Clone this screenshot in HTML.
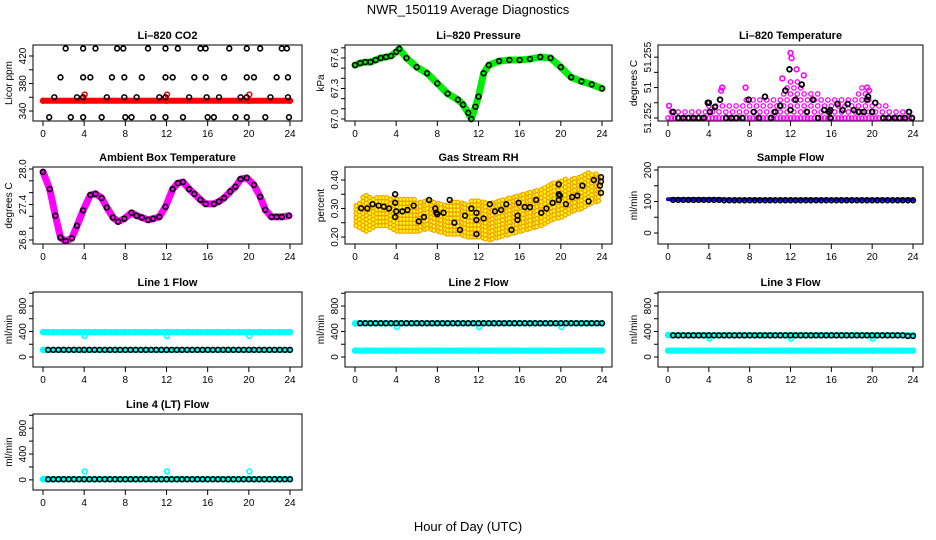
<!DOCTYPE html>
<html><head><meta charset="utf-8">
<style>
html,body{margin:0;padding:0;background:#fff;}
svg{display:block;font-family:"Liberation Sans",Arial,sans-serif;}
.t{font-weight:bold;font-size:11px;}
.tk{font-size:10px;}
</style></head>
<body>
<svg id="chart" width="936" height="540" viewBox="0 0 936 540">
<rect x="0" y="0" width="936" height="540" fill="#fff"/>
<text x="468" y="14" text-anchor="middle" font-size="13">NWR_150119  Average Diagnostics</text>
<text x="468" y="531" text-anchor="middle" font-size="13">Hour of Day (UTC)</text>
</svg>
<script>
// ---- data ----
const xTicks = [0,4,8,12,16,20,24];
const halfHours = [0.5,1,1.5,2,2.5,3,3.5,4,4.5,5,5.5,6,6.5,7,7.5,8,8.5,9,9.5,10,10.5,11,11.5,12,12.5,13,13.5,14,14.5,15,15.5,16,16.5,17,17.5,18,18.5,19,19.5,20,20.5,21,21.5,22,22.5,23,23.5,24];
const hours = [0,1,2,3,4,5,6,7,8,9,10,11,12,13,14,15,16,17,18,19,20,21,22,23,24];

// CO2
const co2Hours = [2.2,3.9,5.1,7.2,7.8,10.2,11.9,13.1,15.3,15.8,18.1,19.8,21.1,23.2,23.7, 1.7,3.9,4.6,6.7,7.9,9.6,11.9,12.6,14.7,15.8,17.6,19.8,20.5,22.7,23.8, 1.1,3.3,3.9,6.2,7.9,9.1,11.3,11.9,14.2,15.9,17.1,19.2,19.8,22.1,23.8, 0.6,2.7,3.9,5.7,8.0,8.6,10.7,11.9,13.6,16.0,16.6,18.7,19.8,21.6,23.9];
const co2Values = [431,431,431,431,431,431,431,431,431,431,431,431,431,431,431, 389,389,389,389,389,389,389,389,389,389,389,389,389,389,389, 360,360,360,360,360,360,360,360,360,360,360,360,360,360,360, 331,331,331,331,331,331,331,331,331,331,331,331,331,331,331];
const co2RedHours = [0,4,4.05,12,12.05,20,20.05,24];
const co2RedValues = [355,355,364,355,364,355,364,355];

// Pressure
const presHours = [0,0.5,1,1.5,2,2.5,3,3.5,4,4.3,5,6,7,8,9,10,10.5,11,11.3,11.7,12,12.5,13,14,15,16,17,18,19,20,21,22,23,24];
const presValues = [67.53,67.55,67.56,67.56,67.58,67.60,67.61,67.62,67.66,67.69,67.60,67.51,67.45,67.35,67.25,67.19,67.14,67.06,67.00,67.12,67.22,67.45,67.53,67.57,67.58,67.58,67.59,67.61,67.60,67.51,67.41,67.37,67.34,67.30];

// Li-820 temperature
const ltHours = [0.5,1,1.5,2,2.5,3,3.5,3.9,4,4.1,4.6,5.1,5.7,6.2,6.7,7.3,7.9,8.4,8.9,9.5,10.1,10.5,11,11.5,11.9,12.0,12.5,13.1,13.6,14.2,14.7,15.3,15.8,15.9,15.9,16.6,17.1,17.6,18.2,18.7,19.2,19.5,19.6,20,20.3,21.1,21.6,22.2,22.7,23.2,23.6,23.9];
const ltValues = [51.2522,51.2520,51.2520,51.2520,51.2520,51.2520,51.2520,51.2525,51.2525,51.2522,51.25236,51.2526,51.2520,51.2520,51.2520,51.2520,51.2526,51.2522,51.2520,51.2527,51.2520,51.2522,51.2524,51.2529,51.2536,51.25226,51.2526,51.2531,51.2522,51.2526,51.2520,51.25226,51.2522,51.2520,51.25226,51.25246,51.25226,51.25246,51.25226,51.2522,51.2522,51.2526,51.2527,51.2522,51.2525,51.2520,51.2520,51.2520,51.2520,51.2520,51.2522,51.2520];
const ltBandHigh = [51.25233,51.2522,51.25226,51.2522,51.25259,51.25259,51.25253,51.25259,51.25266,51.25276,51.25272,51.25266,51.25341,51.25309,51.25286,51.25276,51.25259,51.25266,51.25259,51.25299,51.25259,51.25243,51.25233,51.25226,51.25233];
const ltOutHours = [12.0,12.1,12.6,19.5,19.7,5.3,5.2,7.6,0.1,11.2,13.3];
const ltOutValues = [51.25414,51.25397,51.2536,51.2530,51.2529,51.2530,51.2529,51.2530,51.2524,51.2533,51.2534];

// Ambient box temperature
const ambHours = [0,0.65,1.2,1.7,2.2,2.8,3.3,3.9,4.6,5.1,5.7,6.2,6.8,7.3,7.9,8.6,9.1,9.6,10.2,10.7,11.3,11.9,12.6,13.1,13.6,14.2,14.7,15.3,15.8,16.6,17.1,17.6,18.2,18.7,19.2,19.8,20.5,21.1,21.6,22.2,22.7,23.2,23.9];
const ambValues = [27.95,27.66,27.21,26.84,26.78,26.83,27.04,27.30,27.56,27.58,27.51,27.35,27.18,27.11,27.16,27.26,27.21,27.18,27.14,27.16,27.19,27.36,27.66,27.76,27.78,27.66,27.58,27.48,27.41,27.41,27.45,27.51,27.62,27.70,27.83,27.85,27.73,27.53,27.31,27.19,27.19,27.19,27.21];

// Gas stream RH
const rhHours = [0.6,1.2,1.7,2.3,2.8,3.3,3.9,3.9,3.9,4.0,4.6,5.1,5.7,6.2,6.7,7.2,7.8,7.9,8.0,8.6,9.2,9.65,10.2,10.7,11.3,11.8,11.8,11.8,12.5,13.1,13.6,14.2,14.7,15.2,15.8,15.8,15.9,16.5,17.0,17.6,18.1,18.6,19.2,19.8,19.8,19.8,19.9,20.5,21.1,21.6,22.1,22.7,23.2,23.9,23.9,23.8,23.9];
const rhValues = [0.301,0.30,0.315,0.31,0.306,0.30,0.35,0.32,0.27,0.29,0.29,0.295,0.31,0.255,0.27,0.33,0.30,0.285,0.28,0.285,0.33,0.25,0.225,0.275,0.30,0.285,0.26,0.21,0.265,0.315,0.29,0.295,0.315,0.225,0.275,0.26,0.32,0.305,0.305,0.33,0.285,0.30,0.32,0.385,0.35,0.33,0.345,0.315,0.34,0.345,0.38,0.325,0.40,0.41,0.395,0.38,0.355];
const rhBandLow = [0.24,0.22,0.24,0.24,0.22,0.22,0.22,0.23,0.22,0.21,0.21,0.20,0.20,0.19,0.20,0.21,0.22,0.23,0.24,0.26,0.27,0.29,0.30,0.32,0.33];
const rhBandHigh = [0.32,0.35,0.34,0.34,0.34,0.34,0.33,0.33,0.33,0.32,0.33,0.32,0.34,0.33,0.33,0.34,0.36,0.37,0.38,0.39,0.40,0.41,0.42,0.43,0.42];

// Sample flow
const sampleBlue = [107,107,107,107,107,107,106,106,106,106,106,106,106,106,106,106,106,106,106,106,106,106,106,106,106];
const sampleBlack = [105,105,105,105,105,105,105,105,105,105,104,104,104,104,104,104,104,104,104,104,104,104,104,104,104,104,104,104,104,104,104,104,104,104,104,104,104,104,104,104,104,104,104,104,104,104,104,104];

// Line flows
const cyanHours = [0,1,2,3,4,4.05,5,6,7,8,9,10,11,12,12.05,13,14,15,16,17,18,19,20,20.05,21,22,23,24];
const l1CyanHigh = [390,390,390,390,390,330,390,390,390,390,390,390,390,390,330,390,390,390,390,390,390,390,390,330,390,390,390,390];
const l1CyanLow = [110,110,110,110,110,110,110,110,110,110,110,110,110,110,110,110,110,110,110,110,110,110,110,110,110,110,110,110];
const l1Black = [112,112,112,112,112,112,112,112,112,112,112,112,112,112,112,112,112,112,112,112,112,112,112,112,112,112,112,112,112,112,112,112,112,112,112,112,112,112,112,112,112,112,112,112,112,112,112,112];
const l2CyanHigh = [525,530,530,530,530,470,530,530,530,530,530,530,530,530,470,530,530,530,530,530,530,530,530,470,530,530,530,530];
const l2CyanLow = [100,100,100,100,100,100,100,100,100,100,100,100,100,100,100,100,100,100,100,100,100,100,100,100,100,100,100,100];
const l2Black = [530,530,530,530,530,530,530,530,530,530,530,530,530,530,530,530,530,530,530,530,530,530,530,530,530,530,530,530,530,530,530,530,530,530,530,530,530,530,530,530,530,530,530,530,530,530,530,530];
const l3CyanHigh = [345,340,340,340,340,290,340,340,340,340,340,340,340,340,290,340,340,340,340,340,340,340,340,290,340,340,340,340];
const l3CyanLow = [100,100,100,100,100,100,100,100,100,100,100,100,100,100,100,100,100,100,100,100,100,100,100,100,100,100,100,100];
const l3Black = [340,340,340,340,340,340,340,340,340,340,340,340,340,340,340,340,340,340,340,340,340,340,340,340,340,340,340,340,340,340,340,340,340,340,340,340,340,340,340,340,340,340,340,340,340,340,330,330];
const l4CyanHigh = [10,10,10,10,10,130,10,10,10,10,10,10,10,10,130,10,10,10,10,10,10,10,10,130,10,10,10,10];
const l4CyanLow = [10,10,10,10,10,10,10,10,10,10,10,10,10,10,10,10,10,10,10,10,10,10,10,10,10,10,10,10];
const l4Black = [10,10,10,10,10,10,10,10,10,10,10,10,10,10,10,10,10,10,10,10,10,10,10,10,10,10,10,10,10,10,10,10,10,10,10,10,10,10,10,10,10,10,10,10,10,10,10,10];

const co2Ticks=[340,360,380,400,420], co2Labels=["340","","380","","420"];
const presTicks=[67.0,67.1,67.2,67.3,67.4,67.5,67.6,67.7], presLabels=["67.0","","","67.3","","","67.6",""];
const ltTicks=[51.2520,51.2525,51.2530,51.2535,51.2540], ltLabels=["51.252","","51","","51.255"];
const ambTicks=[26.8,27.0,27.2,27.4,27.6,27.8,28.0], ambLabels=["26.8","","","27.4","","","28.0"];
const rhTicks=[0.20,0.25,0.30,0.35,0.40], rhLabels=["0.20","","0.30","","0.40"];
const sfTicks=[0,50,100,150,200], sfLabels=["0","","100","","200"];
const flTicks=[0,200,400,600,800,1000], flLabels=["0","","400","","800",""];

// ---- geometry ----
const NS="http://www.w3.org/2000/svg";
const svg=document.getElementById('chart');
const cols=[{L:33,R:302,x0:43,x24:290},{L:345,R:612,x0:355,x24:602},{L:658,R:923,x0:668,x24:913}];
const rows=[{top:45,bot:121},{top:167,bot:244},{top:292,bot:367},{top:414,bot:490}];
function el(tag,attrs,parent){const e=document.createElementNS(NS,tag);for(const k in attrs)e.setAttribute(k,attrs[k]);(parent||svg).appendChild(e);return e;}

function makePanel(name,title,ylab,c,r,ymin,ymax,ticks,labels){
  const g=el('g',{});
  
  
  const p={c:c,r:r,ymin:ymin,ymax:ymax,g:g,
    X:h=>c.x0+h*(c.x24-c.x0)/24,
    Y:v=>r.bot-(v-ymin)/(ymax-ymin)*(r.bot-r.top)};
  const t=el('text',{x:(c.L+c.R)/2,y:r.top-6,'text-anchor':'middle','class':'t'},g);
  t.textContent=title;
  
  
  const yl=el('text',{x:0,y:0,'text-anchor':'middle','font-size':'10',transform:`translate(${c.L-21},${(r.top+r.bot)/2}) rotate(-90)`},g);
  yl.textContent=ylab;
  
  
  const box=el('rect',{x:c.L,y:r.top,width:c.R-c.L,height:r.bot-r.top,fill:'none',stroke:'#000','stroke-width':1},g);
  
  
  const xa=el('g',{},g);
  
  
  xTicks.forEach(h=>{
    const x=p.X(h);
    el('line',{x1:x,y1:r.bot,x2:x,y2:r.bot+5,stroke:'#000'},xa);
    const tx=el('text',{x:x,y:r.bot+16,'text-anchor':'middle','class':'tk'},xa);
    tx.textContent=String(h);
  });
  const ya=el('g',{},g);
  
  
  ticks.forEach((v,i)=>{
    const y=p.Y(v);
    el('line',{x1:c.L-4,y1:y,x2:c.L,y2:y,stroke:'#000'},ya);
    if(labels[i]){
      const tx=el('text',{x:0,y:0,'text-anchor':'middle','class':'tk',transform:`translate(${c.L-7},${y}) rotate(-90)`},ya);
      tx.textContent=labels[i];
    }
  });
  return p;
}
function pts(p,hs,vs,opt,nm){
  const g=el('g',{},p.g);
  
  
  hs.forEach((h,i)=>{
    el('circle',{cx:p.X(h),cy:p.Y(vs[i]),r:opt.r||2.4,fill:opt.fill||'none',stroke:opt.stroke,'stroke-width':opt.sw||1.6},g);
  });
  return g;
}
function band(p,hs,vs,color,w,nm){
  const d=hs.map((h,i)=>(i?'L':'M')+p.X(h).toFixed(1)+','+p.Y(vs[i]).toFixed(1)).join('');
  const e=el('path',{d:d,fill:'none',stroke:color,'stroke-width':w,'stroke-linejoin':'round','stroke-linecap':'round'},p.g);
  
  
}

// ---- panels ----
const pCO2=makePanel('li820-co2','Li\u2013820 CO2','Licor ppm',cols[0],rows[0],325.5,436,co2Ticks,co2Labels);
band(pCO2,[0,24],[355,355],'#ff0000',6,'co2-red-band');
pts(pCO2,co2RedHours,co2RedValues,{stroke:'#ff0000'},'co2-red-points');
pts(pCO2,co2Hours,co2Values,{stroke:'#000'},'co2-black-points');

const pPres=makePanel('li820-pressure','Li\u2013820 Pressure','kPa',cols[1],rows[0],66.98,67.728,presTicks,presLabels);
band(pPres,presHours,presValues,'#00ee00',7,'pressure-green-band');
pts(pPres,presHours,presValues,{stroke:'#000'},'pressure-black-points');

const pLT=makePanel('li820-temperature','Li\u2013820 Temperature','degrees C',cols[2],rows[0],51.2519,51.2544,ltTicks,ltLabels);
(function(){
  const g=el('g',{},pLT.g);
  
  
  for(let i=0;i<hours.length-1;i++){
    for(let s=0;s<3;s++){
      const h=hours[i]+s/3;
      const hi=ltBandHigh[i]+(ltBandHigh[i+1]-ltBandHigh[i])*s/3;
      const yTop=pLT.Y(hi), yB=pLT.Y(51.2520);
      let k=0;
      for(let y=yB;y>=yTop;y-=6){
        if(k===0 || (k+s+i)%2===0) el('circle',{cx:pLT.X(h),cy:y,r:2.2,fill:'none',stroke:'#ff00ff','stroke-width':1.3},g);
        k++;
      }
    }
  }
})();
pts(pLT,ltOutHours,ltOutValues,{stroke:'#ff00ff'},'temperature-magenta-outliers');
pts(pLT,ltHours,ltValues,{stroke:'#000',sw:1.8},'temperature-black-points');

const pAmb=makePanel('ambient-box-temperature','Ambient Box Temperature','degrees C',cols[0],rows[1],26.732,28.034,ambTicks,ambLabels);
band(pAmb,ambHours,ambValues,'#ff00ff',7,'ambient-magenta-band');
pts(pAmb,ambHours,ambValues,{stroke:'#000'},'ambient-black-points');

const pRH=makePanel('gas-stream-rh','Gas Stream RH','percent',cols[1],rows[1],0.1754,0.4456,rhTicks,rhLabels);
(function(){
  const g=el('g',{},pRH.g);
  
  
  for(let i=0;i<hours.length-1;i++){
    for(let s=0;s<3;s++){
      const h=hours[i]+s/3;
      const lo=rhBandLow[i]+(rhBandLow[i+1]-rhBandLow[i])*s/3;
      const hi=rhBandHigh[i]+(rhBandHigh[i+1]-rhBandHigh[i])*s/3;
      for(let y=pRH.Y(lo);y>=pRH.Y(hi);y-=4){
        el('circle',{cx:pRH.X(h)+((y|0)%2),cy:y,r:2,fill:'#ffff00',stroke:'#f5a000','stroke-width':1.2},g);
      }
    }
  }
})();
pts(pRH,rhHours,rhValues,{stroke:'#000'},'rh-black-points');

const pSF=makePanel('sample-flow','Sample Flow','ml/min',cols[2],rows[1],-34.9,209.5,sfTicks,sfLabels);
band(pSF,hours,sampleBlue,'#0000ff',4,'sample-blue-band');
pts(pSF,halfHours,sampleBlack,{stroke:'#000'},'sample-black-points');

function flowPanel(name,title,c,r,hi,lo,blk){
  const p=makePanel(name,title,'ml/min',c,r,-156.9,1019.6,flTicks,flLabels);
  band(p,hours,hours.map(()=>lo[0]),'#00ffff',6,name+'-cyan-low-band');
  pts(p,cyanHours,lo,{stroke:'#00ffff'},name+'-cyan-low-points');
  band(p,[0,24],[hi[1],hi[1]],'#00ffff',6,name+'-cyan-high-band');
  pts(p,cyanHours,hi,{stroke:'#00ffff'},name+'-cyan-high-points');
  pts(p,halfHours,blk,{stroke:'#000'},name+'-black-points');
}
flowPanel('line-1-flow','Line 1 Flow',cols[0],rows[2],l1CyanHigh,l1CyanLow,l1Black);
flowPanel('line-2-flow','Line 2 Flow',cols[1],rows[2],l2CyanHigh,l2CyanLow,l2Black);
flowPanel('line-3-flow','Line 3 Flow',cols[2],rows[2],l3CyanHigh,l3CyanLow,l3Black);
flowPanel('line-4-flow','Line 4 (LT) Flow',cols[0],rows[3],l4CyanHigh,l4CyanLow,l4Black);
</script>
</body></html>
